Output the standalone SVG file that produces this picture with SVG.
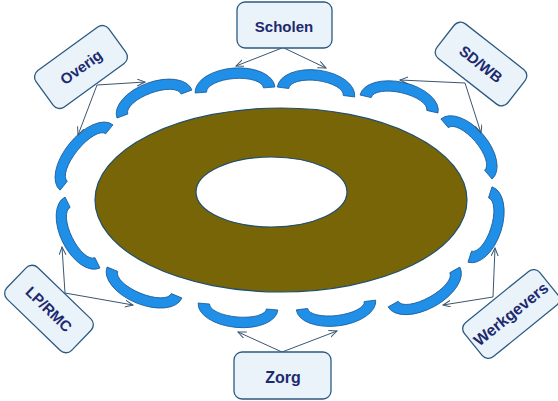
<svg xmlns="http://www.w3.org/2000/svg" width="558" height="401" viewBox="0 0 558 401">
<defs>
<style>
.box{fill:#eaf2fa;stroke:#2d5a80;stroke-width:1.3}
.lbl{font-family:"Liberation Sans",Arial,sans-serif;font-weight:bold;font-size:15px;fill:#1c2a6e;text-anchor:middle;dominant-baseline:central}
.seg{fill:#1f8fe8;stroke:#1c5a96;stroke-width:0.8}
.con{stroke:#3b5670;stroke-width:1;fill:none;marker-end:url(#arr)}
</style>
<marker id="arr" markerUnits="userSpaceOnUse" markerWidth="10" markerHeight="8" refX="8" refY="3.5" orient="auto">
<path d="M0,0 L8,3.5 L0,7" fill="none" stroke="#3b5670" stroke-width="1"/>
</marker>
</defs>
<rect width="558" height="401" fill="#ffffff"/>
<g id="ring">
<path d="M95,200 A186,92 0 1 0 467,200 A186,92 0 1 0 95,200 Z M196,192 A75.5,35 0 1 1 347,192 A75.5,35 0 1 1 196,192 Z" fill="#776508" fill-rule="evenodd" stroke="#1f4f70" stroke-width="1.2"/>
</g>
<g id="segments">
<path class="seg" transform="translate(235,90) rotate(-4.3)" d="M-40,0 A40,22 0 0 1 40,0 L28.5,0 A28.5,11.5 0 0 0 -28.5,0 Z"/>
<path class="seg" transform="translate(316,92) rotate(7.3)" d="M-39,0 A39,22 0 0 1 39,0 L27.5,0 A27.5,11.5 0 0 0 -27.5,0 Z"/>
<path class="seg" transform="translate(399,104) rotate(13)" d="M-40,0 A40,22 0 0 1 40,0 L28.5,0 A28.5,11.5 0 0 0 -28.5,0 Z"/>
<path class="seg" transform="translate(466.5,149) rotate(49.6)" d="M-39.5,0 A39.5,22 0 0 1 39.5,0 L28,0 A28,11.5 0 0 0 -28,0 Z"/>
<path class="seg" transform="translate(480,224.5) rotate(107.7)" d="M-39.5,0 A39.5,22 0 0 1 39.5,0 L28,0 A28,11.5 0 0 0 -28,0 Z"/>
<path class="seg" transform="translate(424,287) rotate(151)" d="M-41,0 A41,22 0 0 1 41,0 L29.5,0 A29.5,11.5 0 0 0 -29.5,0 Z"/>
<path class="seg" transform="translate(336,305) rotate(173)" d="M-40,0 A40,21 0 0 1 40,0 L28.5,0 A28.5,10.5 0 0 0 -28.5,0 Z"/>
<path class="seg" transform="translate(238,306.5) rotate(185)" d="M-40,0 A40,21 0 0 1 40,0 L28.5,0 A28.5,10.5 0 0 0 -28.5,0 Z"/>
<path class="seg" transform="translate(144.5,282.5) rotate(202.5)" d="M-40.5,0 A40.5,22 0 0 1 40.5,0 L29,0 A29,11.5 0 0 0 -29,0 Z"/>
<path class="seg" transform="translate(82.5,232.5) rotate(243.8)" d="M-39.5,0 A39.5,22 0 0 1 39.5,0 L28,0 A28,11.5 0 0 0 -28,0 Z"/>
<path class="seg" transform="translate(86.5,157.5) rotate(309)" d="M-42,0 A42,22 0 0 1 42,0 L30.5,0 A30.5,11.5 0 0 0 -30.5,0 Z"/>
<path class="seg" transform="translate(154.5,104) rotate(339.5)" d="M-40,0 A40,22 0 0 1 40,0 L28.5,0 A28.5,11.5 0 0 0 -28.5,0 Z"/>
</g>
<g id="connectors">
<line class="con" x1="282" y1="48" x2="236" y2="66"/>
<line class="con" x1="284" y1="48" x2="326" y2="68"/>
<line class="con" x1="97" y1="85" x2="145" y2="82"/>
<line class="con" x1="97" y1="85" x2="78" y2="135"/>
<line class="con" x1="465" y1="83" x2="400" y2="80"/>
<line class="con" x1="465" y1="83" x2="481" y2="133"/>
<line class="con" x1="65" y1="293" x2="62" y2="247"/>
<line class="con" x1="65" y1="293" x2="133" y2="305"/>
<line class="con" x1="493" y1="297" x2="495" y2="248"/>
<line class="con" x1="493" y1="297" x2="443" y2="305"/>
<line class="con" x1="282" y1="352" x2="238" y2="332"/>
<line class="con" x1="282" y1="352" x2="337" y2="331"/>
</g>
<g id="scholen">
<rect class="box" x="237" y="2" width="95" height="46" rx="8"/>
<text class="lbl" x="284" y="26">Scholen</text>
</g>
<g id="overig" transform="translate(81,67) rotate(-36)">
<rect class="box" x="-45" y="-22.5" width="90" height="45" rx="8"/>
<text class="lbl" x="0" y="0">Overig</text>
</g>
<g id="sdwb" transform="translate(481,64) rotate(38)">
<rect class="box" x="-45" y="-22" width="90" height="44" rx="8"/>
<text class="lbl" x="0" y="0">SD/WB</text>
</g>
<g id="lprmc" transform="translate(49,309) rotate(44)">
<rect class="box" x="-45" y="-22" width="90" height="44" rx="8"/>
<text class="lbl" x="0" y="0">LP/RMC</text>
</g>
<g id="werkgevers" transform="translate(511,314) rotate(-39)">
<rect class="box" x="-48.5" y="-22" width="97" height="44" rx="8"/>
<text class="lbl" x="0" y="0" style="font-size:16px">Werkgevers</text>
</g>
<g id="zorg">
<rect class="box" x="234" y="352" width="97" height="47" rx="8"/>
<text class="lbl" x="283" y="377" style="font-size:16px">Zorg</text>
</g>
</svg>
